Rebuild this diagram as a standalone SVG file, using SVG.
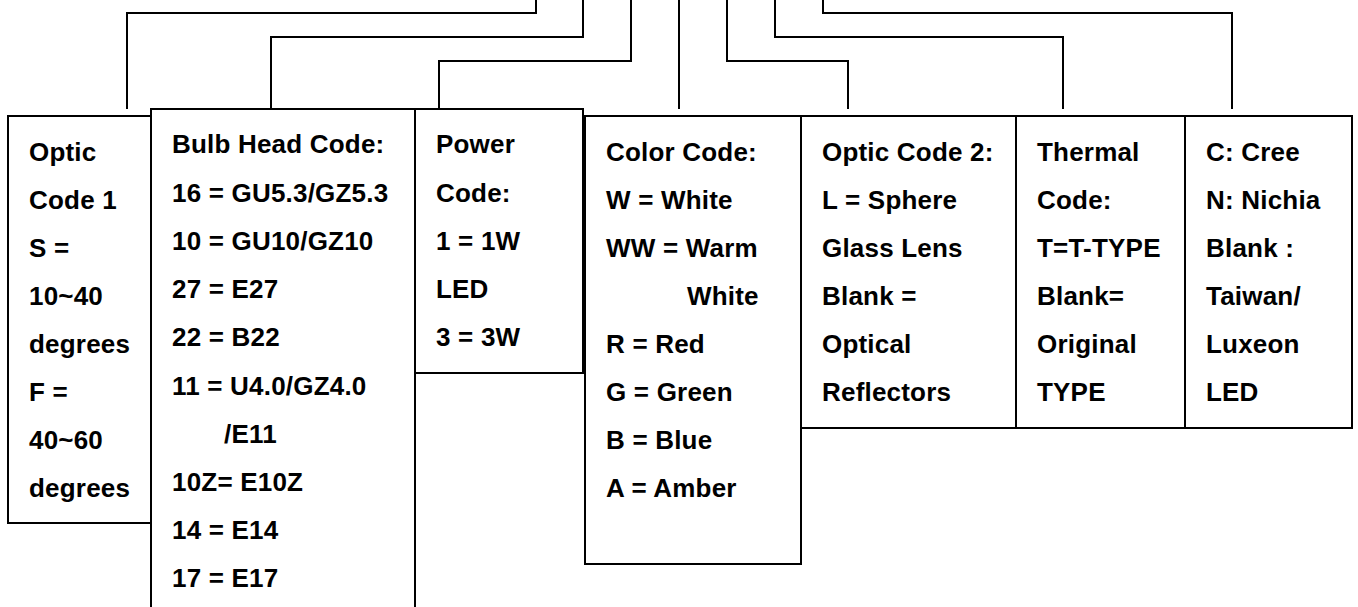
<svg xmlns="http://www.w3.org/2000/svg" width="1358" height="607" viewBox="0 0 1358 607">
<style>
.box{fill:#fff;stroke:#000;stroke-width:2}
.con{fill:none;stroke:#000;stroke-width:2}
text{font-family:"Liberation Sans",Arial,sans-serif;font-weight:bold;font-size:26px;letter-spacing:0.2px;fill:#000}
</style>
<rect width="1358" height="607" fill="#fff"/>
<g id="connectors">
<polyline class="con" points="536,0 536,13 127,13 127,109"/>
<polyline class="con" points="583,0 583,37 271,37 271,109"/>
<polyline class="con" points="631,0 631,61 439,61 439,109"/>
<polyline class="con" points="679,0 679,109"/>
<polyline class="con" points="727,0 727,61 848,61 848,109"/>
<polyline class="con" points="775,0 775,37 1063,37 1063,109"/>
<polyline class="con" points="823,0 823,13 1232,13 1232,109"/>
</g>
<g id="optic1">
<rect class="box" x="8" y="116" width="143" height="407"/>
<text x="29" y="161">Optic</text>
<text x="29" y="209">Code 1</text>
<text x="29" y="257">S =</text>
<text x="29" y="305">10~40</text>
<text x="29" y="353">degrees</text>
<text x="29" y="401">F =</text>
<text x="29" y="449">40~60</text>
<text x="29" y="497">degrees</text>
</g>
<g id="bulb">
<rect class="box" x="151" y="109" width="264" height="515"/>
<text x="172" y="153">Bulb Head Code:</text>
<text x="172" y="202">16 = GU5.3/GZ5.3</text>
<text x="172" y="250">10 = GU10/GZ10</text>
<text x="172" y="298">27 = E27</text>
<text x="172" y="346">22 = B22</text>
<text x="172" y="395">11 = U4.0/GZ4.0</text>
<text x="224" y="443">/E11</text>
<text x="172" y="491">10Z= E10Z</text>
<text x="172" y="539">14 = E14</text>
<text x="172" y="587">17 = E17</text>
</g>
<g id="power">
<rect class="box" x="415" y="109" width="168" height="264"/>
<text x="436" y="153">Power</text>
<text x="436" y="202">Code:</text>
<text x="436" y="250">1 = 1W</text>
<text x="436" y="298">LED</text>
<text x="436" y="346">3 = 3W</text>
</g>
<g id="color">
<rect class="box" x="585" y="116" width="216" height="448"/>
<text x="606" y="161">Color Code:</text>
<text x="606" y="209">W = White</text>
<text x="606" y="257">WW = Warm</text>
<text x="687" y="305">White</text>
<text x="606" y="353">R = Red</text>
<text x="606" y="401">G = Green</text>
<text x="606" y="449">B = Blue</text>
<text x="606" y="497">A = Amber</text>
</g>
<g id="optic2">
<rect class="box" x="801" y="116" width="215" height="312"/>
<text x="822" y="161">Optic Code 2:</text>
<text x="822" y="209">L = Sphere</text>
<text x="822" y="257">Glass Lens</text>
<text x="822" y="305">Blank =</text>
<text x="822" y="353">Optical</text>
<text x="822" y="401">Reflectors</text>
</g>
<g id="thermal">
<rect class="box" x="1016" y="116" width="169" height="312"/>
<text x="1037" y="161">Thermal</text>
<text x="1037" y="209">Code:</text>
<text x="1037" y="257">T=T-TYPE</text>
<text x="1037" y="305">Blank=</text>
<text x="1037" y="353">Original</text>
<text x="1037" y="401">TYPE</text>
</g>
<g id="led">
<rect class="box" x="1185" y="116" width="167" height="312"/>
<text x="1206" y="161">C: Cree</text>
<text x="1206" y="209">N: Nichia</text>
<text x="1206" y="257">Blank :</text>
<text x="1206" y="305">Taiwan/</text>
<text x="1206" y="353">Luxeon</text>
<text x="1206" y="401">LED</text>
</g>
</svg>
